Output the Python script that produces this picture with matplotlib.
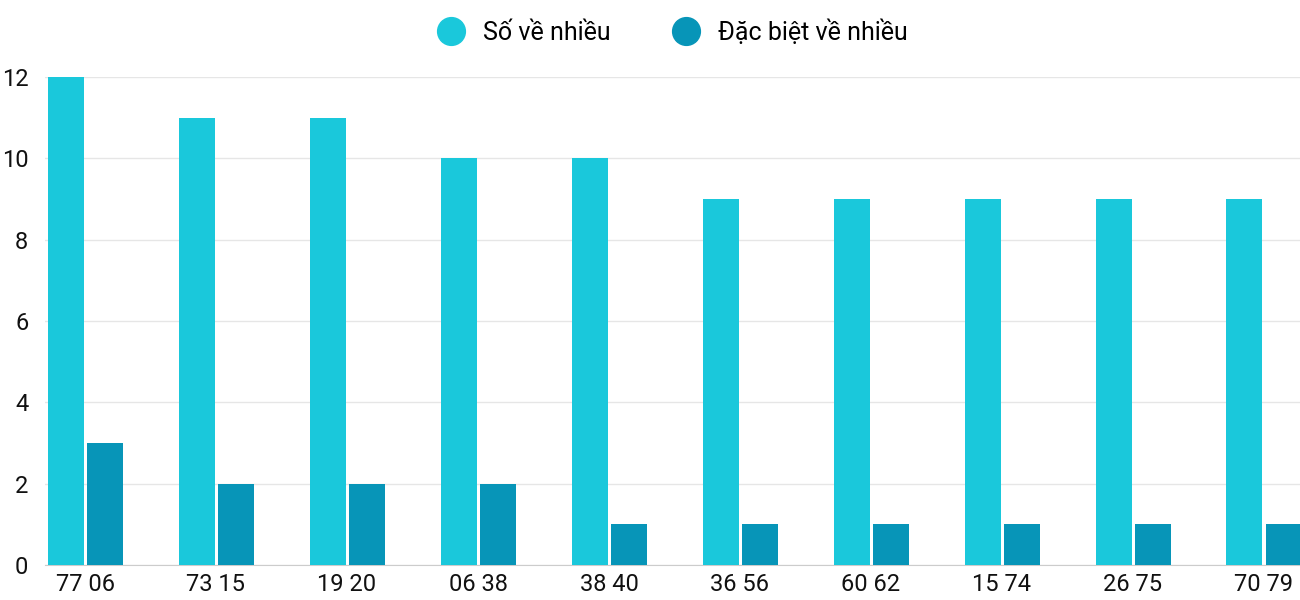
import matplotlib.pyplot as plt
from matplotlib.lines import Line2D
import numpy as np

plt.rcParams['font.family'] = ['Roboto', 'DejaVu Sans']

categories = ["77 06", "73 15", "19 20", "06 38", "38 40", "36 56", "60 62", "15 74", "26 75", "70 79"]
so_ve_nhieu = [12, 11, 11, 10, 10, 9, 9, 9, 9, 9]
dac_biet = [3, 2, 2, 2, 1, 1, 1, 1, 1, 1]

c1 = "#1ac8db"
c2 = "#0795b8"

fig = plt.figure(figsize=(13, 6), dpi=100)
ax = fig.add_axes([45 / 1300, 35 / 600, 1 - 45 / 1300, 488 / 600])

x = np.arange(len(categories))
w = 36 / 131
off = 19.5 / 131
ax.bar(x - off, so_ve_nhieu, width=w, color=c1, zorder=3)
ax.bar(x + off, dac_biet, width=w, color=c2, zorder=3)

ax.set_xlim((45 - 85) / 131, (1300 - 85) / 131)
ax.set_ylim(0, 12)
ax.set_yticks(range(0, 13, 2))
ax.set_xticks(x)
ax.set_xticklabels(categories)
ax.tick_params(axis='both', length=0, labelsize=17, colors="#111111")
ax.tick_params(axis='y', pad=12)
ax.tick_params(axis='x', pad=6)
ax.grid(axis='y', color="#e6e6e6", linewidth=1, zorder=0)
for s in ["top", "right", "left"]:
    ax.spines[s].set_visible(False)
ax.spines["bottom"].set_color("#cccccc")

handles = [
    Line2D([], [], marker='o', linestyle='', markersize=20, color=c1, label="Số về nhiều"),
    Line2D([], [], marker='o', linestyle='', markersize=20, color=c2, label="Đặc biệt về nhiều"),
]
fig.legend(handles=handles, loc='upper center', bbox_to_anchor=(0.513, 1.005), ncol=2,
           frameon=False, fontsize=18, handletextpad=0.3, columnspacing=2.0)

fig.savefig("out.png", dpi=100)
